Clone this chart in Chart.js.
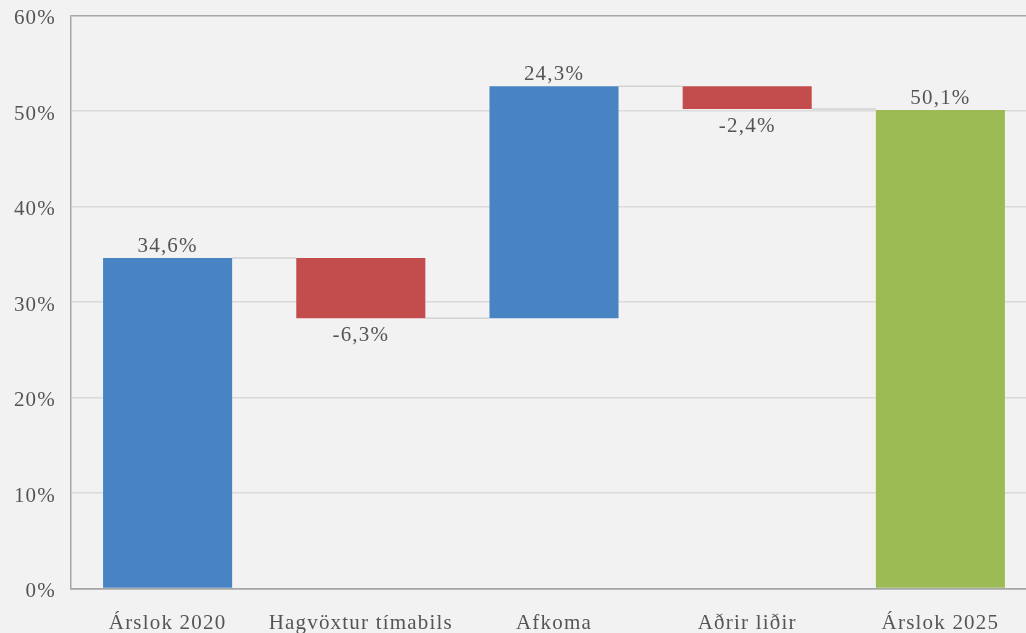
<!DOCTYPE html>
<html>
<head>
<meta charset="utf-8">
<script src="https://cdn.jsdelivr.net/npm/chart.js@4"></script>
<style>
  html, body { margin: 0; padding: 0; background: #f2f2f2; overflow: hidden; }
  #wrap { width: 1040px; height: 633px; position: relative; }
</style>
</head>
<body>
<div id="wrap"><canvas id="waterfallChart"></canvas></div>
<script>
// --- Data ---
const categories = ['Árslok 2020', 'Hagvöxtur tímabils', 'Afkoma', 'Aðrir liðir', 'Árslok 2025'];
const values = [34.6, -6.3, 24.3, -2.4, 50.1];
const barKinds = ['total', 'change', 'change', 'change', 'total'];
const yTicks = [0, 10, 20, 30, 40, 50, 60];

// --- Styles ---
const blue = '#4883c4';
const red = '#c34c4d';
const green = '#9dbb54';
const textGray = '#555555';
const gridGray = '#dadada';
const axisGray = '#a6a6a6';
const serif = '"Liberation Serif", "Times New Roman", serif';
const spacing = '1.2px';
const fontSize = 21;

// build floating ranges for the waterfall
let running = 0;
const ranges = [];
const levels = [];
values.forEach((v, i) => {
    if (barKinds[i] === 'total') {
        ranges.push([0, v]);
        running = v;
    } else {
        ranges.push([running, running + v]);
        running = running + v;
    }
    levels.push(running);
});
const barColors = values.map((v, i) => {
    if (i === values.length - 1) return green;
    return v < 0 ? red : blue;
});

const fmt = v => v.toFixed(1).replace('.', ',') + '%';

// letter spacing gets reset whenever the canvas is resized, so set it each pass
const spacingPlugin = {
    id: 'spacing',
    beforeUpdate(chart) { chart.ctx.letterSpacing = spacing; },
    beforeDraw(chart) { chart.ctx.letterSpacing = spacing; }
};

// connector lines between bars
const connectorPlugin = {
    id: 'connectors',
    beforeDatasetsDraw(chart) {
        const meta = chart.getDatasetMeta(0);
        const y = chart.scales.y;
        const ctx = chart.ctx;
        ctx.save();
        ctx.strokeStyle = '#d3d3d3';
        ctx.lineWidth = 1.5;
        for (let i = 0; i < meta.data.length - 1; i++) {
            const a = meta.data[i], b = meta.data[i + 1];
            const py = y.getPixelForValue(levels[i]);
            ctx.beginPath();
            ctx.moveTo(a.x + a.width / 2, py);
            ctx.lineTo(b.x - b.width / 2, py);
            ctx.stroke();
        }
        ctx.restore();
    }
};

// value labels above / below bars
const valueLabelPlugin = {
    id: 'valueLabels',
    afterDatasetsDraw(chart) {
        const meta = chart.getDatasetMeta(0);
        const y = chart.scales.y;
        const ctx = chart.ctx;
        ctx.save();
        ctx.letterSpacing = spacing;
        ctx.font = fontSize + 'px ' + serif;
        ctx.fillStyle = textGray;
        ctx.textAlign = 'center';
        ctx.textBaseline = 'alphabetic';
        meta.data.forEach((bar, i) => {
            const r = ranges[i];
            if (values[i] >= 0) {
                ctx.fillText(fmt(values[i]), bar.x, y.getPixelForValue(Math.max(r[0], r[1])) - 6);
            } else {
                ctx.fillText(fmt(values[i]), bar.x, y.getPixelForValue(Math.min(r[0], r[1])) + 23);
            }
        });
        ctx.restore();
    }
};

new Chart(document.getElementById('waterfallChart').getContext('2d'), {
    type: 'bar',
    data: {
        labels: categories,
        datasets: [{
            data: ranges,
            backgroundColor: barColors,
            borderWidth: 0,
            categoryPercentage: 1,
            barPercentage: 0.668
        }]
    },
    options: {
        responsive: true,
        maintainAspectRatio: false,
        animation: false,
        layout: { padding: { top: 15.5, right: 3, left: 0, bottom: 0 } },
        plugins: {
            legend: { display: false },
            tooltip: { enabled: false }
        },
        scales: {
            y: {
                min: 0,
                max: 60,
                afterFit: scale => {
                    scale.width = 71;
                    scale.paddingTop = 0;
                    scale.paddingBottom = 0;
                },
                afterBuildTicks: scale => { scale.ticks = yTicks.map(v => ({ value: v })); },
                grid: {
                    drawTicks: false,
                    lineWidth: 1.5,
                    color: c => (c.tick && (c.tick.value === 60 || c.tick.value === 0)) ? axisGray : gridGray
                },
                border: { display: true, color: axisGray, width: 1.5 },
                ticks: {
                    padding: 15,
                    labelOffset: 3,
                    color: textGray,
                    font: { family: serif, size: fontSize },
                    callback: v => v + '%'
                }
            },
            x: {
                afterFit: scale => { scale.height = 44.5; },
                grid: { display: false, drawTicks: false },
                border: { display: true, color: axisGray, width: 1.5 },
                ticks: {
                    padding: 22,
                    color: textGray,
                    maxRotation: 0,
                    autoSkip: false,
                    font: { family: serif, size: fontSize }
                }
            }
        }
    },
    plugins: [spacingPlugin, connectorPlugin, valueLabelPlugin]
});
</script>
</body>
</html>
